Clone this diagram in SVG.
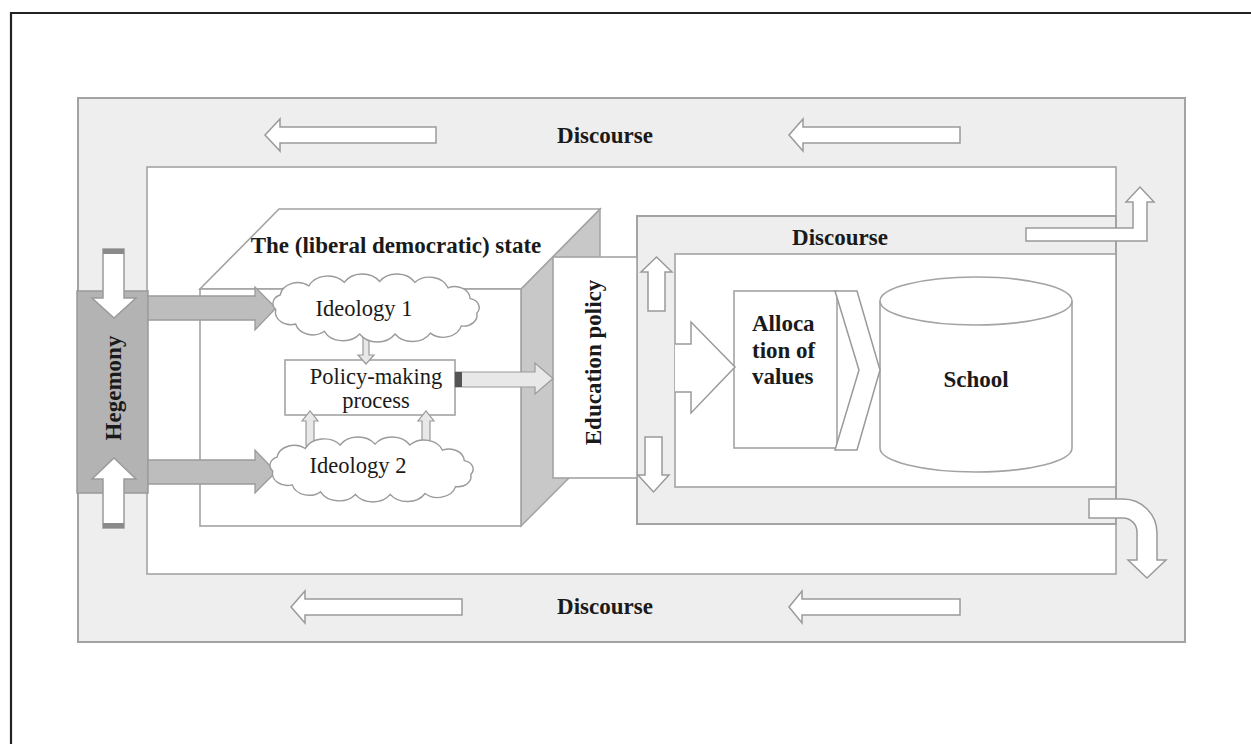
<svg xmlns="http://www.w3.org/2000/svg" xmlns:xlink="http://www.w3.org/1999/xlink" width="1251" height="744" viewBox="0 0 1251 744">
<style>
.band{fill:#eeeeee;stroke:#a3a3a3;stroke-width:2}
.white{fill:#ffffff;stroke:#a3a3a3;stroke-width:1.6}
.hollow{fill:#ffffff;stroke:#9a9a9a;stroke-width:1.5}
.dark{fill:#bdbdbd;stroke:#9a9a9a;stroke-width:1.3}
.light{fill:#e8e8e8;stroke:#9a9a9a;stroke-width:1.2}
.cap{fill:#8a8a8a}
.lbl{font-family:"Liberation Serif","Times New Roman",serif;font-size:23px;font-weight:bold;fill:#1a1a1a}
.reg{font-family:"Liberation Serif","Times New Roman",serif;font-size:22.5px;fill:#1a1a1a}
</style>
<defs>
<path id="cloudShape" vector-effect="non-scaling-stroke" fill="#ffffff" stroke="#9a9a9a" stroke-width="1.4" d="M10,36 A10,10 0 0 1 14,20 A16,16 0 0 1 40,10 A19,19 0 0 1 72,6 A19,19 0 0 1 104,5 A19,19 0 0 1 136,6 A18,18 0 0 1 166,12 A14,14 0 0 1 186,24 A10,10 0 0 1 192,40 A12,12 0 0 1 178,54 A17,17 0 0 1 150,62 A19,19 0 0 1 118,63 A19,19 0 0 1 86,63 A19,19 0 0 1 54,60 A16,16 0 0 1 28,52 A14,14 0 0 1 10,36 Z"/>
</defs>
<rect x="0" y="0" width="1251" height="744" fill="#ffffff"/>
<path d="M11,744 V13 H1251" fill="none" stroke="#222222" stroke-width="2.2"/>

<g id="outer-discourse">
<rect class="band" x="78" y="98" width="1107" height="544"/>
<text class="lbl" x="605" y="143" text-anchor="middle">Discourse</text>
<text class="lbl" x="605" y="614" text-anchor="middle">Discourse</text>
</g>

<g id="inner-field">
<rect class="white" x="147" y="167" width="969" height="407"/>
</g>

<g id="middle-discourse">
<rect class="band" x="637" y="216" width="479" height="308"/>
<text class="lbl" x="840" y="245" text-anchor="middle">Discourse</text>
</g>

<g id="school-field">
<rect class="white" x="675" y="254" width="441" height="233"/>
</g>

<g id="state">
<polygon points="521,289 600,209 600,447 521,526" fill="#c8c8c8" stroke="#a3a3a3" stroke-width="1.5"/>
<polygon points="279,209 600,209 521,289 200,289" class="white"/>
<rect class="white" x="200" y="289" width="321" height="237"/>
<text class="lbl" x="396" y="253" text-anchor="middle">The (liberal democratic) state</text>
</g>

<g id="education-policy">
<rect class="white" x="553" y="257" width="84" height="221"/>
<text class="lbl" transform="translate(601,362.5) rotate(-90)" text-anchor="middle">Education policy</text>
</g>

<g id="hegemony">
<rect x="77" y="291" width="71" height="202" fill="#b3b3b3" stroke="#999999" stroke-width="1.5"/>
<text class="lbl" transform="translate(121,388) rotate(-90)" text-anchor="middle">Hegemony</text>
</g>

<g id="allocation">
<rect class="white" x="734" y="291" width="103" height="157"/>
<text class="lbl" x="752" y="331">Alloca</text>
<text class="lbl" x="752" y="358">tion of</text>
<text class="lbl" x="752" y="384">values</text>
</g>

<g id="school">
<path d="M880,301 A96,24 0 0 1 1072,301 V448 A96,24 0 0 1 880,448 Z" class="white"/>
<path d="M880,301 A96,24 0 0 0 1072,301" fill="none" stroke="#a3a3a3" stroke-width="1.6"/>
<text class="lbl" x="976" y="387" text-anchor="middle">School</text>
</g>

<g id="policy-making">
<rect class="white" x="285" y="360" width="170" height="55"/>
<text class="reg" x="376" y="384" text-anchor="middle">Policy-making</text>
<text class="reg" x="376" y="408" text-anchor="middle">process</text>
</g>

<g id="connectors">
<path class="hollow" d="M265,135 L280,119 V127 H436 V143 H280 V151 Z"/>
<path class="hollow" d="M789,135 L803,119 V127 H960 V143 H803 V151 Z"/>
<path class="hollow" d="M291,607 L305,591 V599 H462 V615 H305 V623 Z"/>
<path class="hollow" d="M789,607 L802,591 V599 H960 V615 H802 V623 Z"/>
<path class="hollow" d="M103,249 H124 V298 H136 L114,318 L92,298 H103 Z"/>
<rect class="cap" x="103" y="249" width="21" height="5"/>
<path class="hollow" d="M114,458 L136,479 H124 V528 H103 V479 H92 Z"/>
<rect class="cap" x="103" y="523" width="21" height="5"/>
<path class="dark" d="M148,296 H255 V287 L276,308 L255,330 V320 H148 Z"/>
<path class="dark" d="M148,460 H255 V450 L276,472 L255,493 V484 H148 Z"/>
<path class="light" d="M363,336 H369 V355 H374 L366,364 L358,355 H363 Z"/>
<path class="light" d="M306,446 V421 H302 L310,411 L318,421 H314 V446 Z"/>
<path class="light" d="M422,443 V421 H418 L426,411 L434,421 H430 V443 Z"/>
<path class="light" d="M455,372 H535 V363 L553,378.5 L535,394 V387 H455 Z"/>
<rect x="455" y="372" width="7" height="15" fill="#555555"/>
<path class="hollow" d="M656.5,257 L672,272 H665 V311 H648 V272 H641 Z"/>
<path class="hollow" d="M645,437 H662 V475 H669 L653.5,492 L638,475 H645 Z"/>
<path class="hollow" d="M675,344 H691 V322 L735,367 L691,413 V392 H675"/>
<path class="hollow" d="M835,291 H857 L880,370 L857,450 H835 L859,370 Z"/>
<path class="hollow" d="M1026,228 H1133 V202 H1126 L1140,187 L1154,202 H1147 V241 H1026 Z"/>
<path class="hollow" d="M1089,499 H1123 A34,34 0 0 1 1157,533 V560 H1166 L1147,578 L1128,560 H1137 V532 A14,14 0 0 0 1123,518 H1089 Z"/>
</g>

<g id="ideology-1">
<use xlink:href="#cloudShape" href="#cloudShape" transform="translate(264.7,276.9) scale(1.1046,0.9067)"/>
<text class="reg" x="364" y="316" text-anchor="middle">Ideology 1</text>
</g>

<g id="ideology-2">
<use xlink:href="#cloudShape" href="#cloudShape" transform="translate(261.8,439.8) scale(1.0885,0.8667)"/>
<text class="reg" x="358" y="473" text-anchor="middle">Ideology 2</text>
</g>
</svg>
